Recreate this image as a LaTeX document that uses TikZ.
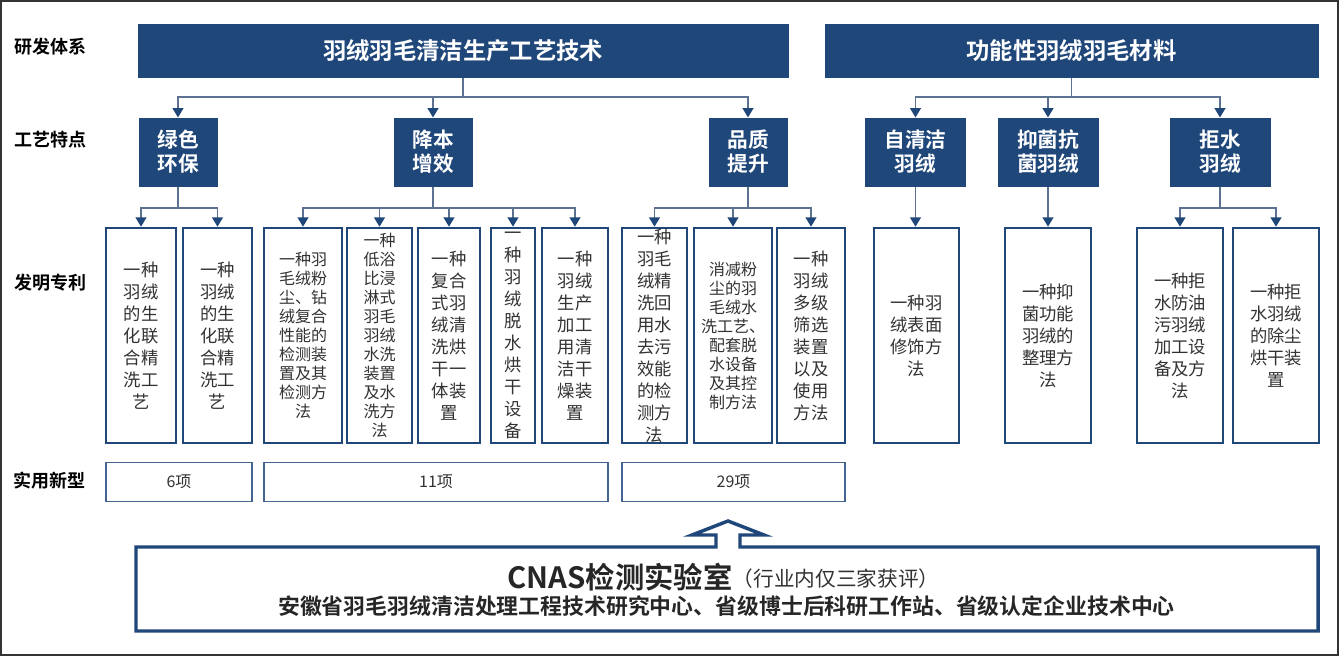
\documentclass[tikz,border=0pt]{standalone}
\usepackage{fontspec}
\setmainfont{Noto Sans CJK SC}[BoldFont={Noto Sans CJK SC Bold}]
\usetikzlibrary{arrows.meta}

\definecolor{navy}{RGB}{31,71,122}
\definecolor{wirecol}{RGB}{92,114,144}
\definecolor{ink}{RGB}{50,50,50}
\definecolor{thinedge}{RGB}{70,100,145}

\tikzset{
	every picture/.style={line width=0.75pt},
	headbox/.style={fill=navy, draw=navy, text=white, inner sep=0pt,
		minimum height=39.75pt, font=\bfseries\fontsize{17.5}{21}\selectfont},
	featbox/.style={fill=navy, draw=navy, text=white, align=center, inner sep=0pt,
		minimum height=51pt, font=\bfseries\fontsize{15.5}{18}\selectfont},
	patbox/.style={draw=navy, line width=1.9pt, fill=white, text=ink, align=center,
		inner sep=0pt, minimum height=161.25pt, font=\fontsize{13}{16.5}\selectfont},
	denser/.style={font=\fontsize{12}{14.25}\selectfont},
	countbox/.style={draw=thinedge, line width=1.2pt, text=ink, inner sep=0pt,
		minimum height=29.25pt, font=\fontsize{12}{14}\selectfont},
	rowlabel/.style={font=\bfseries\fontsize{13.5}{15}\selectfont},
	wire/.style={draw=wirecol, line width=1.4pt},
	feed/.style={wire, -{Triangle[length=7pt,width=8pt,color=navy]}}}

\begin{document}
\begin{tikzpicture}[x=0.75pt,y=0.75pt,yscale=-1,xscale=1]
	\useasboundingbox (0,0) rectangle (1341,657);
	% outer frame
	\draw [line width=1.1pt, black!80] (1,1) rectangle (1338,655);

	% row labels
	\node [rowlabel] (lblsys) at (50,47) {研发体系};
	\node [rowlabel] (lblfeat) at (50,140) {工艺特点};
	\node [rowlabel] (lblpat) at (50,283) {发明专利};
	\node [rowlabel] (lbluse) at (49,481) {实用新型};

	% research system
	\node [headbox, minimum width=487.5pt] (tech) at (463,50.5) {羽绒羽毛清洁生产工艺技术};
	\node [headbox, minimum width=369.75pt] (mat) at (1071.5,50.5) {功能性羽绒羽毛材料};

	% process features
	\node [featbox, minimum width=58.5pt] (green) at (178,152) {绿色\\环保};
	\node [featbox, minimum width=58.5pt] (cost) at (433,152) {降本\\增效};
	\node [featbox, minimum width=58.5pt] (quality) at (748,152) {品质\\提升};
	\node [featbox, minimum width=75pt] (selfclean) at (915.5,152) {自清洁\\羽绒};
	\node [featbox, minimum width=75pt] (antibac) at (1048,152) {抑菌抗\\菌羽绒};
	\node [featbox, minimum width=75pt] (repel) at (1220,152) {拒水\\羽绒};

	% invention patents
	\node [patbox, minimum width=52.5pt] (pa) at (141,335.5) {一种\\羽绒\\的生\\化联\\合精\\洗工\\艺};
	\node [patbox, minimum width=51.75pt] (pb) at (217.5,335.5) {一种\\羽绒\\的生\\化联\\合精\\洗工\\艺};
	\node [patbox, denser, minimum width=58.5pt] (pc) at (303,335.5) {一种羽\\毛绒粉\\尘、钻\\绒复合\\性能的\\检测装\\置及其\\检测方\\法};
	\node [patbox, denser, minimum width=48.75pt] (pd) at (379.5,335.5) {一种\\低浴\\比浸\\淋式\\羽毛\\羽绒\\水洗\\装置\\及水\\洗方\\法};
	\node [patbox, minimum width=46.5pt] (pe) at (449,335.5) {一种\\复合\\式羽\\绒清\\洗烘\\干一\\体装\\置};
	\node [patbox, minimum width=33pt] (pf) at (513,335.5) {一\\种\\羽\\绒\\脱\\水\\烘\\干\\设\\备};
	\node [patbox, minimum width=49.5pt] (pg) at (575,335.5) {一种\\羽绒\\生产\\加工\\用清\\洁干\\燥装\\置};
	\node [patbox, minimum width=48.75pt] (ph) at (654.5,335.5) {一种\\羽毛\\绒精\\洗回\\用水\\去污\\效能\\的检\\测方\\法};
	\node [patbox, denser, minimum width=58.5pt] (pi) at (733,335.5) {消减粉\\尘的羽\\毛绒水\\洗工艺、\\配套脱\\水设备\\及其控\\制方法};
	\node [patbox, minimum width=51pt] (pj) at (811,335.5) {一种\\羽绒\\多级\\筛选\\装置\\以及\\使用\\方法};
	\node [patbox, minimum width=63.75pt] (pk) at (916.5,335.5) {一种羽\\绒表面\\修饰方\\法};
	\node [patbox, minimum width=64.5pt] (pl) at (1048,335.5) {一种抑\\菌功能\\羽绒的\\整理方\\法};
	\node [patbox, minimum width=64.5pt] (pm) at (1180,335.5) {一种拒\\水防油\\污羽绒\\加工设\\备及方\\法};
	\node [patbox, minimum width=64.5pt] (pn) at (1276,335.5) {一种拒\\水羽绒\\的除尘\\烘干装\\置};

	% utility models
	\node [countbox, minimum width=109.5pt] (nsix) at (179,482) {6项};
	\node [countbox, minimum width=258pt] (neleven) at (436,482) {11项};
	\node [countbox, minimum width=167.25pt] (ntwentynine) at (733.5,482) {29项};

	% connectors, level one
	\coordinate (busA) at (0,97);
	\coordinate (busB) at (0,208);
	\draw [wire] (tech.south) -- (tech.south |- busA);
	\draw [feed] (tech.south |- busA) -| (green.north);
	\draw [feed] (tech.south |- busA) -| (cost.north);
	\draw [feed] (tech.south |- busA) -| (quality.north);
	\draw [wire] (mat.south) -- (mat.south |- busA);
	\draw [feed] (mat.south |- busA) -| (selfclean.north);
	\draw [feed] (mat.south |- busA) -| (antibac.north);
	\draw [feed] (mat.south |- busA) -| (repel.north);

	% connectors, level two
	\draw [wire] (green.south) -- (green.south |- busB);
	\draw [feed] (green.south |- busB) -| (pa.north);
	\draw [feed] (green.south |- busB) -| (pb.north);
	\draw [wire] (cost.south) -- (cost.south |- busB);
	\draw [feed] (cost.south |- busB) -| (pc.north);
	\draw [feed] (cost.south |- busB) -| (pd.north);
	\draw [feed] (cost.south |- busB) -| (pe.north);
	\draw [feed] (cost.south |- busB) -| (pf.north);
	\draw [feed] (cost.south |- busB) -| (pg.north);
	\draw [wire] (quality.south) -- (quality.south |- busB);
	\draw [feed] (quality.south |- busB) -| (ph.north);
	\draw [feed] (quality.south |- busB) -| (pi.north);
	\draw [feed] (quality.south |- busB) -| (pj.north);
	\draw [feed] (selfclean.south) -- (selfclean.south |- pk.north);
	\draw [feed] (antibac.south) -- (antibac.south |- pl.north);
	\draw [wire] (repel.south) -- (repel.south |- busB);
	\draw [feed] (repel.south |- busB) -| (pm.north);
	\draw [feed] (repel.south |- busB) -| (pn.north);

	% laboratory box with hollow arrow
	\draw [navy, line width=2.6pt, line join=miter] (716,547) -- (136,547) -- (136,631) -- (1318,631) -- (1318,547) -- (740,547) -- (740,535) -- (764,535) -- (728,521) -- (692,535) -- (716,535) -- cycle ;
	\node [font=\bfseries\fontsize{22}{24}\selectfont, text=black!85] (cnas) at (620,577) {CNAS检测实验室};
	\node [font=\fontsize{15.5}{18}\selectfont, text=ink] (cnasnote) at (836,579) {（行业内仅三家获评）};
	\node [font=\bfseries\fontsize{16.4}{20}\selectfont, text=black!85] (centres) at (726.5,606) {安徽省羽毛羽绒清洁处理工程技术研究中心、省级博士后科研工作站、省级认定企业技术中心};

\end{tikzpicture}
\end{document}
